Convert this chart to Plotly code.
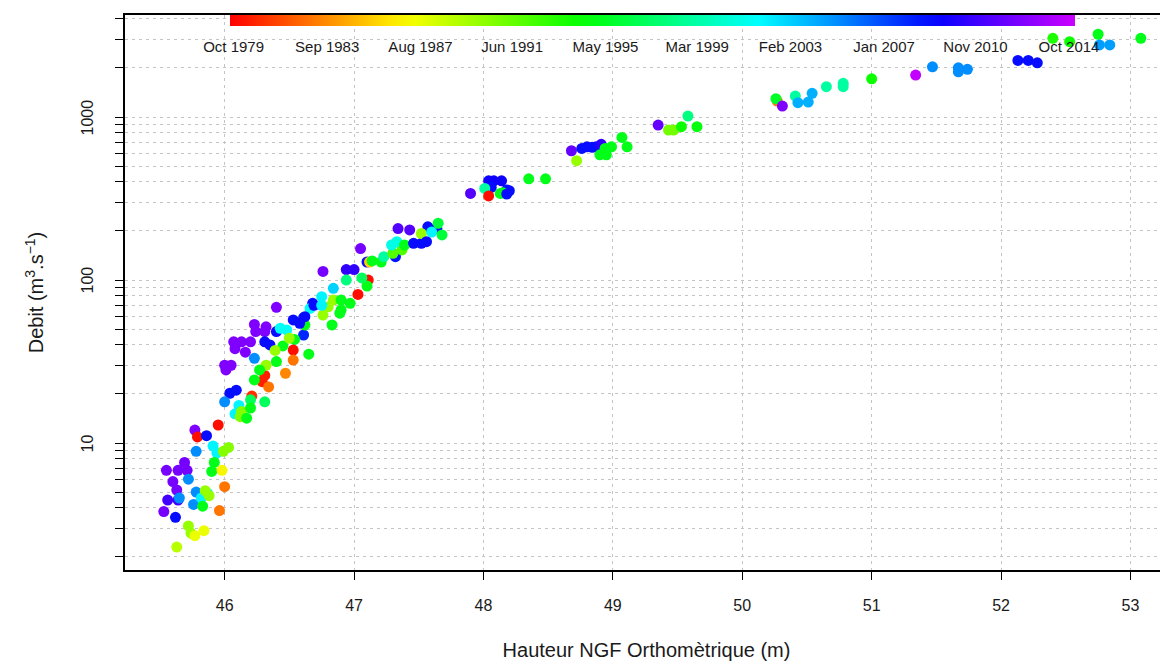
import math
import colorsys
import plotly.graph_objects as go

# ---- data (hauteur m, debit m3/s, date as decimal year) ----
hauteur = [
    50.27, 50.26, 50.31, 50.41, 50.43, 50.51, 50.54, 50.65, 50.78, 50.78,
    51.00, 51.34, 51.47, 51.67, 51.67, 51.74, 52.13, 52.21, 52.28, 52.40,
    52.53, 52.75, 52.76, 52.84, 53.08,
    47.90, 48.04, 48.08, 48.14, 48.18, 48.20, 48.06, 48.01, 48.04, 48.13,
    48.15, 48.18, 48.35, 48.48, 48.68, 48.72, 48.76, 48.80, 48.84, 48.87,
    48.91, 48.90, 48.95, 48.94, 48.99, 49.07, 49.11, 49.35, 49.43, 49.47,
    49.53, 49.58, 49.65,
    47.05, 46.76, 46.94, 47.00, 47.10, 47.12, 47.14, 47.21, 47.23, 47.32,
    47.30, 47.37, 47.29, 47.33, 47.39, 47.34, 47.43, 47.46, 47.52, 47.57,
    47.64, 47.52, 47.60, 47.65, 47.68, 47.56, 47.11, 47.03, 47.10, 47.06,
    46.94, 46.84, 46.75, 46.84, 46.80, 46.90, 46.90, 46.97, 46.68, 46.66,
    46.76, 46.89, 46.83, 46.61, 46.61, 46.62,
    46.40, 46.23, 46.32, 46.24, 46.31, 46.07, 46.13, 46.20, 46.08, 46.16,
    46.00, 46.05, 46.01, 46.31, 46.40, 46.35, 46.23, 46.43, 46.48, 46.69,
    46.62, 46.53, 46.58, 46.75, 46.54, 46.45, 46.65, 46.50, 46.39, 46.53,
    46.53, 46.47, 46.29, 46.31, 46.34, 46.32, 46.27, 46.40, 46.23, 46.04,
    46.09, 46.21, 46.31, 46.20, 46.00, 46.11, 46.08, 46.13, 46.12, 46.20,
    46.17, 45.95, 45.77,
    45.79, 45.86, 45.78, 45.91, 45.94, 46.03, 45.99, 45.92, 45.90, 45.98,
    45.55, 45.64, 45.69, 45.71, 45.60, 45.63, 45.56, 45.64, 45.72, 45.65,
    45.53, 45.62, 46.00, 45.96, 45.78, 45.76, 45.82, 45.87, 45.88, 45.85,
    45.83, 45.72, 45.74, 45.77, 45.84, 45.63,
]
debit = [
    1254, 1296, 1168, 1345, 1224, 1236, 1397, 1535, 1610, 1535,
    1717, 1810, 2034, 2005, 1895, 1961, 2225, 2225, 2150, 3040,
    2900, 3220, 2770, 2770, 3040,
    340, 406, 406, 406, 357, 353, 370, 365, 328, 340,
    343, 337, 418, 418, 621, 540, 642, 657, 652, 657,
    680, 586, 586, 642, 657, 750, 657, 893, 832, 832,
    872, 1014, 872,
    156, 113, 116, 116, 129, 129, 131, 129, 139, 139,
    146, 153, 164, 172, 164, 207, 203, 168, 168, 212,
    207, 193, 197, 223, 189, 172, 100, 81.6, 91.9, 103,
    100, 89, 79, 75.4, 68.5, 75.4, 65.5, 72, 72, 67,
    61, 62.6, 53, 58.7, 46, 53,
    68, 53.4, 51.6, 48.3, 48.3, 41.8, 41.8, 41.8, 37.9, 36.1,
    30.0, 30.0, 28.1, 41.8, 48.3, 40, 33.1, 50.6, 49.4, 70,
    59.6, 56.9, 54.3, 70, 43.2, 39.4, 35.1, 44, 37, 37.2,
    32.3, 26.8, 23.8, 26, 22.1, 30, 28.1, 31.6, 24.4, 20.2,
    21.1, 19.4, 17.9, 18.4, 17.9, 17, 15.1, 15.6, 14.5, 16.4,
    14.2, 12.9, 12.0,
    10.9, 11.1, 8.9, 9.6, 8.7, 9.4, 8.9, 7.6, 6.7, 6.8,
    6.8, 6.8, 7.6, 6.8, 5.8, 5.15, 4.47, 4.47, 6.0, 4.6,
    3.8, 3.5, 5.4, 3.85, 5.0, 4.2, 4.6, 4.9, 4.75, 5.1,
    4.1, 3.1, 2.8, 2.7, 2.9, 2.3,
]
annee = [
    1983, 1995.5, 2012.8, 1999, 2004, 2004, 2004, 1999, 1999, 1999,
    1994, 2014.7, 2005, 2005, 2005, 2005, 2009, 2009, 2009, 1993.5,
    1994, 1995, 2004.5, 2004.5, 1995,
    2011.5, 2009.5, 2009.5, 2009.5, 2009, 2009, 2009, 1999, 1980, 1995,
    1995, 2009, 1995, 1995, 2012, 1990, 2009, 2009, 2009, 2009,
    2010.5, 1995, 1995, 1995, 1995, 1995, 1995, 2012, 1991, 1991,
    1994, 1998, 1994.5,
    2012.5, 2012.5, 2010.5, 2010.5, 2009, 1985.5, 1995, 1995, 1999, 2008.5,
    1992, 1992, 2001, 2001, 1995, 2011.5, 2011.5, 2009, 2009, 2009,
    2009, 1990, 2002, 1996, 1996, 2009, 1980, 1980, 1995, 1997,
    1998, 2003, 2002, 1990, 1990, 1995, 1995, 1995, 2009, 2001.5,
    1990, 1995, 1995, 2008, 2008, 1995,
    2012.8, 2012.8, 2012.8, 2012.8, 2012.8, 2012.8, 2012.8, 2012.8, 2012.8, 2012.8,
    2012.8, 2012.8, 2012.8, 2009, 2009, 2009, 2005, 2001.5, 2001.5, 2009,
    2009, 2009, 2009, 2002, 1995, 1995, 1995, 1990, 1990, 1980,
    1983, 1983.5, 1980.5, 1980.5, 1983, 1990, 1995, 1995, 1995, 2009,
    2009, 1981, 1997, 1997, 2005, 2002, 2002, 1990.5, 1990.5, 1995,
    1995, 1980, 2012.8,
    1980, 2009, 2005, 2002, 2002, 1990.5, 1990.5, 1995, 1995, 1987,
    2012.5, 2012.5, 2012.5, 2012.5, 2012.5, 2012.5, 2011, 2011, 2005, 2005,
    2012.5, 2009, 1983, 1983, 2005, 2005, 2002, 2002, 1990, 1990,
    1995, 1990, 1990, 1987.5, 1987.5, 1989,
]

date_ticks = [1979.75, 1983.67, 1987.58, 1991.42, 1995.33, 1999.17,
              2003.08, 2007.0, 2010.83, 2014.75]
date_labels = ["Oct 1979", "Sep 1983", "Aug 1987", "Jun 1991", "May 1995",
               "Mar 1999", "Feb 2003", "Jan 2007", "Nov 2010", "Oct 2014"]
date_min, date_max = 1979.6, 2015.0

x_ticks = [46, 47, 48, 49, 50, 51, 52, 53]
y_major = [10, 100, 1000]

# rainbow colour scale (hue 0 -> 0.8)
n = 33
colorscale = []
for i in range(n):
    t = i / (n - 1)
    r, g, b = colorsys.hsv_to_rgb(0.8 * t, 1, 1)
    colorscale.append([t, f"rgb({int(r*255)},{int(g*255)},{int(b*255)})"])

FONT = "Liberation Sans, Arial, sans-serif"
W, H = 1168, 666
ml, mr, mt, mb = 117, 8, 7, 104
pw = W - ml - mr
bar_left, bar_right = 222, 1067   # figure pixel coords

fig = go.Figure()
fig.add_trace(go.Scatter(
    x=hauteur, y=debit, mode="markers",
    marker=dict(
        size=11, color=annee, colorscale=colorscale, cmin=date_min, cmax=date_max,
        line=dict(width=0), opacity=1,
        colorbar=dict(
            orientation="h", lenmode="pixels", len=bar_right - bar_left,
            thicknessmode="pixels", thickness=11,
            x=((bar_left + bar_right) / 2 - ml) / pw, xanchor="center",
            y=1.0, yanchor="top", xpad=0, ypad=0,
            outlinewidth=0, tickvals=date_ticks, ticktext=date_labels,
            ticks="outside", ticklen=8, tickcolor="rgba(0,0,0,0)",
            tickfont=dict(family=FONT, size=15, color="#1a1a1a"),
        ),
    ),
    hoverinfo="x+y", showlegend=False,
))

# y tick labels (rotated, as in the reference), placed in paper x units
for v in y_major:
    fig.add_annotation(x=-0.036, xref="paper", y=math.log10(v), yref="y",
                       text=str(v), showarrow=False, textangle=270,
                       xanchor="center", yanchor="middle",
                       font=dict(family=FONT, size=16, color="#1a1a1a"))

grid = dict(showgrid=True, gridcolor="#c4c4c4", gridwidth=1.3, griddash="3px,4px")

fig.update_layout(
    width=W, height=H,
    margin=dict(l=ml, r=mr, t=mt, b=mb, autoexpand=False),
    paper_bgcolor="white", plot_bgcolor="white",
    font=dict(family=FONT, color="#1a1a1a"),
    xaxis=dict(
        range=[45.23, 53.29], tickvals=x_ticks, automargin=False,
        ticks="outside", ticklen=8, tickwidth=1.3, tickcolor="black",
        showline=True, linecolor="black", linewidth=1.5, mirror=True,
        zeroline=False, ticklabelstandoff=12,
        tickfont=dict(size=16),
        title=dict(text="Hauteur NGF Orthomètrique (m)", font=dict(size=20), standoff=30),
        **grid,
    ),
    yaxis=dict(
        type="log", range=[0.221, 3.626], automargin=False,
        tickvals=y_major, showticklabels=False,
        ticks="outside", ticklen=8, tickwidth=1.3, tickcolor="black",
        showline=True, linecolor="black", linewidth=1.5, mirror=False,
        zeroline=False,
        title=dict(text="Debit (m<sup>3</sup>.s<sup>−1</sup>)", font=dict(size=20), standoff=66),
        minor=dict(dtick="D1", ticks="outside", ticklen=8, tickwidth=1.3,
                   tickcolor="black", showgrid=True, gridcolor="#c4c4c4",
                   gridwidth=1.3, griddash="3px,4px"),
        **grid,
    ),
)

fig.write_html("out.html")
